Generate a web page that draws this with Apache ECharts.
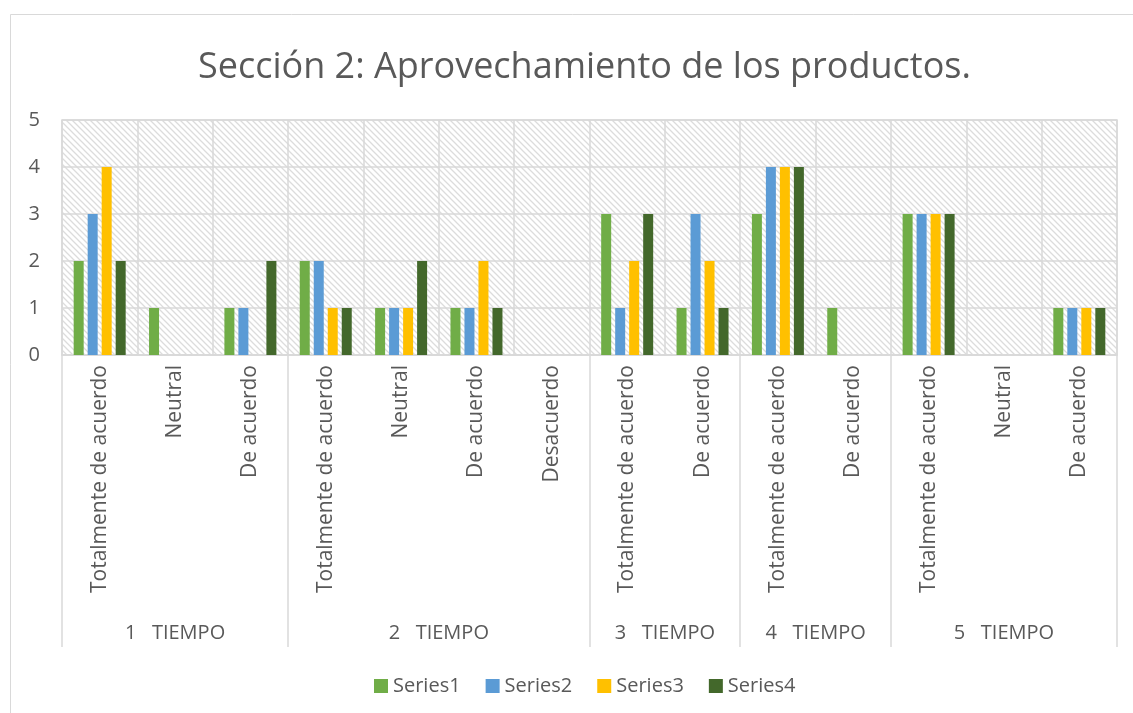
<!DOCTYPE html>
<html>
<head>
<meta charset="utf-8">
<script src="https://cdn.jsdelivr.net/npm/echarts@6/dist/echarts.min.js"></script>
<style>
  html, body { margin: 0; padding: 0; background: #fff; }
  #main { width: 1133px; height: 713px; }
</style>
</head>
<body>
<div id="main"></div>
<script>
// categorias (nivel inferior) y grupos (nivel superior)
var categories = [
  'Totalmente de acuerdo', 'Neutral', 'De acuerdo',
  'Totalmente de acuerdo', 'Neutral', 'De acuerdo', 'Desacuerdo',
  'Totalmente de acuerdo', 'De acuerdo',
  'Totalmente de acuerdo', 'De acuerdo',
  'Totalmente de acuerdo', 'Neutral', 'De acuerdo'
];
var groups = ['1   TIEMPO', '2   TIEMPO', '3   TIEMPO', '4   TIEMPO', '5   TIEMPO'];
var groupBounds = [0, 3, 7, 9, 11, 14];

var series1 = [2, 1, 1, 2, 1, 1, 0, 3, 1, 3, 1, 3, 0, 1];
var series2 = [3, 0, 1, 2, 1, 1, 0, 1, 3, 4, 0, 3, 0, 1];
var series3 = [4, 0, 0, 1, 1, 2, 0, 2, 2, 4, 0, 3, 0, 1];
var series4 = [2, 0, 2, 1, 2, 1, 0, 3, 1, 4, 0, 3, 0, 1];

var yTicks = [0, 1, 2, 3, 4, 5];

var FONT = 'Open Sans';
var TEXT = '#595959';
var LINE = '#d9d9d9';

// fondo rayado (diagonal hacia abajo)
function hatch() {
  var s = 6;
  var c = document.createElement('canvas');
  c.width = s; c.height = s;
  var ctx = c.getContext('2d');
  ctx.fillStyle = '#fff';
  ctx.fillRect(0, 0, s, s);
  ctx.strokeStyle = '#dcdcdc';
  ctx.lineWidth = 1.3;
  ctx.beginPath();
  ctx.moveTo(-2, -2); ctx.lineTo(s + 2, s + 2);
  ctx.moveTo(-s - 2, -2); ctx.lineTo(2, s + 2);
  ctx.moveTo(s - 2, -2); ctx.lineTo(2 * s + 2, s + 2);
  ctx.stroke();
  return c;
}

var groupMids = [];
for (var i = 0; i < groups.length; i++) {
  groupMids.push((groupBounds[i] + groupBounds[i + 1]) / 2);
}

var myChart = echarts.init(document.getElementById('main'));

var option = {
  backgroundColor: '#fff',
  textStyle: { fontFamily: FONT },
  title: {
    text: 'Sección 2: Aprovechamiento de los productos.',
    left: 193,
    top: 45,
    textStyle: { fontFamily: FONT, fontSize: 36, fontWeight: 'normal', color: TEXT }
  },
  graphic: [{
    type: 'rect',
    shape: { x: 10.5, y: 14.5, width: 1200, height: 800 },
    style: { fill: 'none', stroke: LINE, lineWidth: 1 },
    silent: true
  }],
  legend: {
    top: 671,
    left: 369,
    icon: 'rect',
    itemWidth: 14,
    itemHeight: 14,
    itemGap: 25,
    textStyle: { fontFamily: FONT, fontSize: 20, color: TEXT },
    data: ['Series1', 'Series2', 'Series3', 'Series4']
  },
  grid: {
    left: 62,
    right: 16,
    top: 120,
    bottom: 358,
    show: true,
    backgroundColor: { image: hatch(), repeat: 'repeat' },
    borderColor: LINE,
    borderWidth: 1.5
  },
  xAxis: [{
    type: 'category',
    data: categories,
    axisLine: { lineStyle: { color: LINE, width: 1.5 } },
    axisTick: { show: false },
    splitLine: { show: true, lineStyle: { color: LINE, width: 1.5 } },
    axisLabel: {
      interval: 0,
      rotate: 90,
      margin: 10,
      fontSize: 21,
      color: TEXT,
      fontFamily: FONT
    }
  }, {
    type: 'value',
    position: 'bottom',
    min: 0,
    max: categories.length,
    axisLine: { show: false },
    splitLine: { show: false },
    axisTick: {
      show: true,
      customValues: groupBounds,
      length: 292,
      lineStyle: { color: LINE, width: 1.5 }
    },
    axisLabel: {
      show: true,
      customValues: groupMids,
      margin: 268,
      fontSize: 20,
      color: TEXT,
      fontFamily: FONT,
      formatter: function (v) {
        var k = groupMids.indexOf(v);
        return k >= 0 ? groups[k] : '';
      }
    }
  }],
  yAxis: {
    type: 'value',
    min: yTicks[0],
    max: yTicks[yTicks.length - 1],
    interval: 1,
    axisLine: { show: false },
    axisTick: { show: false },
    splitLine: { lineStyle: { color: LINE, width: 1.5 } },
    axisLabel: { fontSize: 20, color: TEXT, margin: 22, fontFamily: FONT }
  },
  series: [
    { name: 'Series1', type: 'bar', data: series1, barWidth: 10, barGap: '40%', itemStyle: { color: '#70ad47' } },
    { name: 'Series2', type: 'bar', data: series2, barWidth: 10, barGap: '40%', itemStyle: { color: '#5b9bd5' } },
    { name: 'Series3', type: 'bar', data: series3, barWidth: 10, barGap: '40%', itemStyle: { color: '#ffc000' } },
    { name: 'Series4', type: 'bar', data: series4, barWidth: 10, barGap: '40%', itemStyle: { color: '#43682b' } }
  ]
};

myChart.setOption(option);
</script>
</body>
</html>
